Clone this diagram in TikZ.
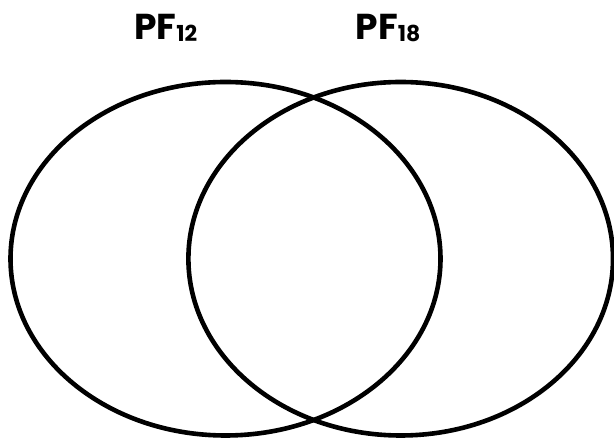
\documentclass[tikz,border=0pt]{standalone}
\usepackage{fontspec}
\usetikzlibrary{shapes.geometric}
\setmainfont{Poppins}[BoldFont={* Bold}]
\begin{document}
\begin{tikzpicture}[x=1pt,y=1pt,
  setring/.style={draw=black,line width=4.6pt,ellipse,inner sep=0pt,outer sep=0pt},
  setlabel/.style={anchor=base west,inner sep=0pt,font=\bfseries\fontsize{36}{38}\selectfont},
  subtext/.style={}]
\useasboundingbox (0,0) rectangle (614,439);
% the two overlapping sets
\node[setring,minimum width=430pt,minimum height=353.5pt] (setA) at (225.5,180.25) {};
\node[setring,minimum width=424.6pt,minimum height=353.5pt] (setB) at (400.7,180.25) {};
% set names
\node[setlabel] (lab12) at (134,399.7) {PF\raisebox{-2pt}{\fontsize{22}{23}\selectfont 12}};
\node[setlabel] (lab18) at (355.5,399.7) {PF\raisebox{-2pt}{\fontsize{22}{23}\selectfont 18}};
\end{tikzpicture}
\end{document}
